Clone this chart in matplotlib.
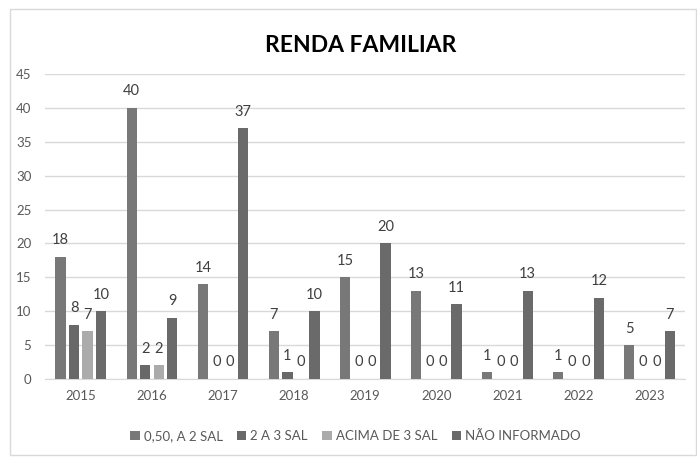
import matplotlib
matplotlib.use("Agg")
import matplotlib.pyplot as plt
import numpy as np

plt.rcParams['font.family'] = ['Lato', 'DejaVu Sans']

years = ['2015', '2016', '2017', '2018', '2019', '2020', '2021', '2022', '2023']
series_names = ['0,50, A 2 SAL', '2 A 3 SAL', 'ACIMA DE 3 SAL', 'NÃO INFORMADO']
s1 = [18, 40, 14, 7, 15, 13, 1, 1, 5]
s2 = [8, 2, 0, 1, 0, 0, 0, 0, 0]
s3 = [7, 2, 0, 0, 0, 0, 0, 0, 0]
s4 = [10, 9, 37, 10, 20, 11, 13, 12, 7]
colors = ['#787878', '#686868', '#ababab', '#6a6a6a']

fig = plt.figure(figsize=(6.97, 4.57), dpi=100)
ax = fig.add_axes([0.065, 0.171, 0.918, 0.667])

x = np.arange(len(years))
spacing = 0.19
width = 0.145
for i, (vals, c, name) in enumerate(zip([s1, s2, s3, s4], colors, series_names)):
    pos = x + (i - 1.5) * spacing
    ax.bar(pos, vals, width, color=c, label=name, zorder=3)
    for p, v in zip(pos, vals):
        ax.text(p, v + 1.4, str(v), ha='center', va='bottom', fontsize=10.5, color='#404040')

ax.set_ylim(0, 45)
ax.set_xlim(-0.5, len(years) - 0.5)
ax.set_yticks(range(0, 46, 5))
ax.set_xticks(x)
ax.set_xticklabels(years)
ax.tick_params(axis='both', length=0, labelsize=9.5, colors='#595959')
ax.tick_params(axis='x', pad=8)
ax.tick_params(axis='y', pad=10)
ax.grid(axis='y', color='#d9d9d9', linewidth=1, zorder=0)
for s in ['top', 'right', 'left']:
    ax.spines[s].set_visible(False)
ax.spines['bottom'].set_color('#d9d9d9')

fig.text(0.517, 0.9, 'RENDA FAMILIAR', ha='center', va='center', fontsize=16.5, fontweight='bold', color='#000000')

leg = fig.legend(loc='center', bbox_to_anchor=(0.51, 0.045), ncol=4, frameon=False,
                 fontsize=9.5, handlelength=0.7, handleheight=0.7, handletextpad=0.3,
                 columnspacing=1.1, labelcolor='#595959')

border = plt.Rectangle((0.014, 0.005), 0.984, 0.975, transform=fig.transFigure,
                       fill=False, edgecolor='#d9d9d9', linewidth=1)
fig.patches.append(border)

fig.savefig('out.png', dpi=100)
